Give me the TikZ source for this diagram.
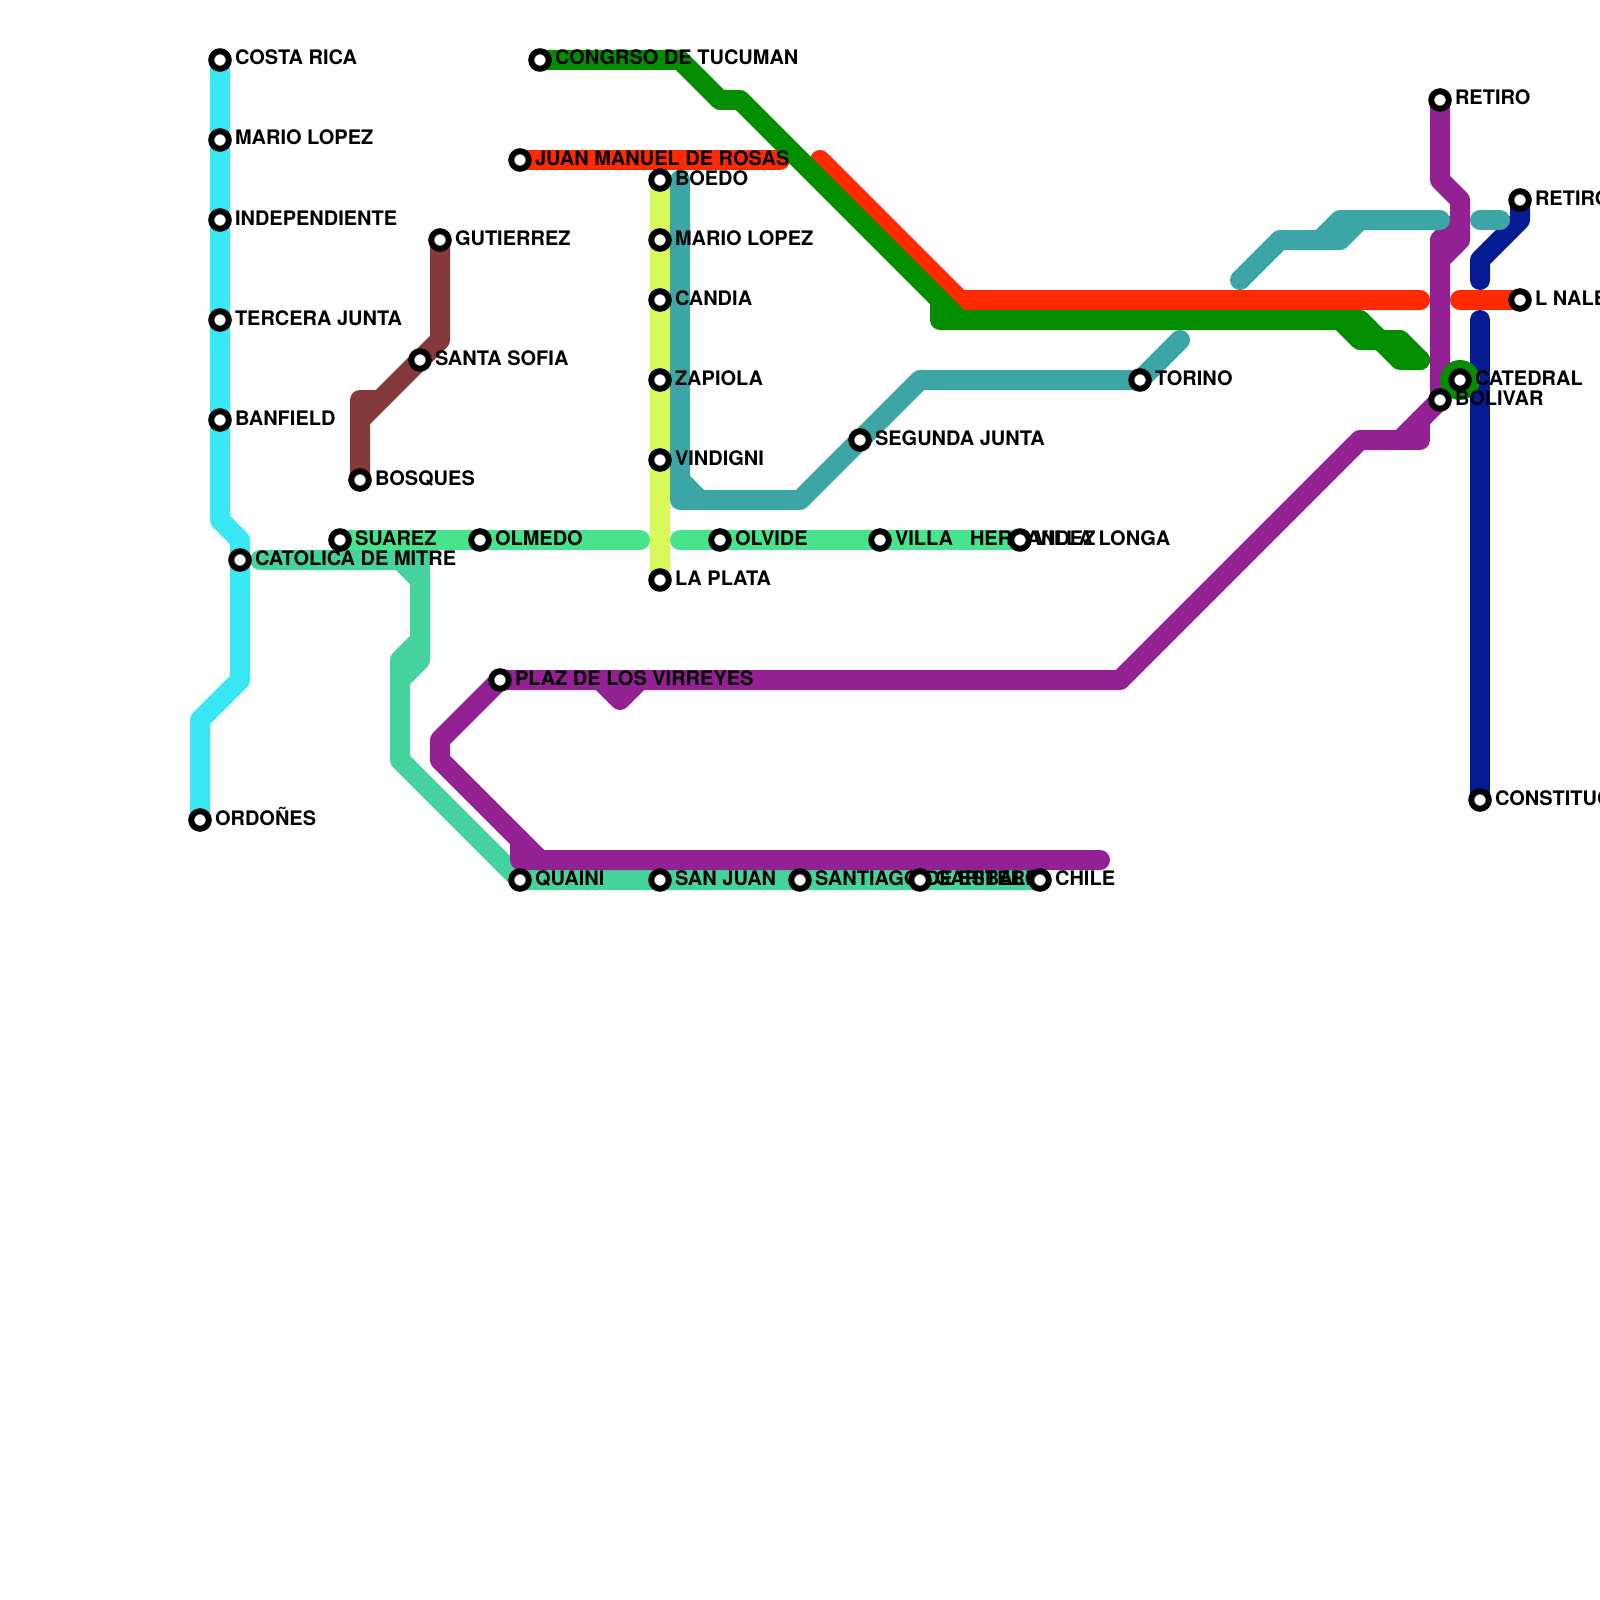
\documentclass[tikz,border=0pt]{standalone}
\usepackage{fontspec}
\setmainfont{TeX Gyre Heros}
\definecolor{cCyan}{HTML}{3AE8F5}
\definecolor{cBrown}{HTML}{843A3A}
\definecolor{cGreen}{HTML}{038E00}
\definecolor{cRed}{HTML}{FF2A00}
\definecolor{cPurple}{HTML}{932193}
\definecolor{cNavy}{HTML}{041B94}
\definecolor{cTeal}{HTML}{3CA6A6}
\definecolor{cLight}{HTML}{48E48C}
\definecolor{cMint}{HTML}{45D39D}
\definecolor{cYellow}{HTML}{D8F95A}
\tikzset{
  metro/.style={line width=20pt,line cap=round,line join=round},
  stn/.style={circle,draw=black,fill=white,line width=6pt,minimum size=17.5pt,inner sep=0pt,outer sep=0pt},
  lbl/.style={anchor=base west,inner sep=0pt,outer sep=0pt,font=\fontsize{20}{22}\selectfont\bfseries,text=black},
}
\newcommand{\stnlabel}[4]{%
  \node[stn] (#1) at (#2,#3) {};
  \node[lbl] (#1t) at (#2+15,#3+5) {#4};
}
\begin{document}
\begin{tikzpicture}[x=1pt,y=-1pt]
\useasboundingbox (0,0) rectangle (1600,1600);
\fill[white] (0,0) rectangle (1600,1600);
% lines
\draw[metro,cYellow] (660,180) -- (660,580);
\draw[metro,cLight] (340,540) -- (640,540);
\draw[metro,cLight] (680,540) -- (1020,540);
\draw[metro,cMint] (260,560) -- (420,560) -- (420,660) -- (400,680) -- (400,760) -- (520,880) -- (1040,880);
\draw[metro,cMint] (400,560) -- (420,580);
\draw[metro,cMint] (420,640) -- (400,660) -- (400,680);
\fill[cMint] (410,550) rectangle (430,570);
\draw[metro,cCyan] (220,60) -- (220,520) -- (240,540) -- (240,680) -- (200,720) -- (200,820);
\draw[metro,cBrown] (440,240) -- (440,340) -- (380,400) -- (360,400) -- (360,480);
\draw[metro,cBrown] (360,420) -- (380,400);
\draw[metro,cNavy] (1520,200) -- (1520,220) -- (1480,260) -- (1480,280);
\draw[metro,cNavy] (1480,320) -- (1480,800);
\draw[metro,cRed] (520,160) -- (780,160);
\draw[metro,cRed] (820,160) -- (960,300) -- (1420,300);
\draw[metro,cRed] (1460,300) -- (1520,300);
\draw[metro,cGreen] (540,60) -- (680,60) -- (720,100) -- (740,100) -- (960,320);
\draw[metro,cGreen] (940,300) -- (940,320) -- (1340,320) -- (1360,340) -- (1380,340) -- (1400,360) -- (1420,360);
\draw[metro,cGreen] (1340,320) -- (1360,320) -- (1380,340) -- (1400,340) -- (1420,360);
\draw[metro,cPurple] (1440,100) -- (1440,180) -- (1460,200) -- (1460,240) -- (1440,260);
\draw[metro,cPurple] (1440,240) -- (1440,400) -- (1400,440) -- (1360,440) -- (1120,680) -- (500,680) -- (440,740) -- (440,760) -- (520,840) -- (520,860) -- (1100,860);
\draw[metro,cPurple] (1440,240) -- (1460,220);
\draw[metro,cPurple] (1420,420) -- (1420,440) -- (1400,440);
\draw[metro,cPurple] (600,680) -- (620,700) -- (640,680);
\draw[metro,cPurple] (520,840) -- (540,860);
\draw[metro,cTeal] (680,180) -- (680,500) -- (800,500) -- (920,380) -- (1140,380) -- (1180,340);
\draw[metro,cTeal] (680,480) -- (700,500);
\draw[metro,cTeal] (1240,280) -- (1280,240) -- (1340,240) -- (1360,220) -- (1440,220);
\draw[metro,cTeal] (1320,240) -- (1340,220) -- (1360,220);
\draw[metro,cTeal] (1480,220) -- (1500,220);
\fill[cGreen] (1460,380) circle (20);
% labels and stations
\stnlabel{a1}{220}{60}{COSTA RICA}
\stnlabel{a2}{220}{140}{MARIO LOPEZ}
\stnlabel{a3}{220}{220}{INDEPENDIENTE}
\stnlabel{a4}{220}{320}{TERCERA JUNTA}
\stnlabel{a5}{220}{420}{BANFIELD}
\stnlabel{a6}{240}{560}{CATOLICA DE MITRE}
\stnlabel{a7}{200}{820}{ORDOÑES}
\stnlabel{b1}{440}{240}{GUTIERREZ}
\stnlabel{b2}{420}{360}{SANTA SOFIA}
\stnlabel{b3}{360}{480}{BOSQUES}
\stnlabel{c1}{340}{540}{SUAREZ}
\stnlabel{c2}{480}{540}{OLMEDO}
\stnlabel{c3}{720}{540}{OLVIDE}
\stnlabel{c4}{880}{540}{VILLA}
\node[lbl] (c5h) at (970,545) {HERNANDEZ};
\stnlabel{c6}{1020}{540}{VILLA LONGA}
\stnlabel{d1}{540}{60}{CONGRSO DE TUCUMAN}
\stnlabel{d2}{520}{160}{JUAN MANUEL DE ROSAS}
\stnlabel{e1}{660}{180}{BOEDO}
\stnlabel{e2}{660}{240}{MARIO LOPEZ}
\stnlabel{e3}{660}{300}{CANDIA}
\stnlabel{e4}{660}{380}{ZAPIOLA}
\stnlabel{e5}{660}{460}{VINDIGNI}
\stnlabel{e6}{660}{580}{LA PLATA}
\stnlabel{f1}{860}{440}{SEGUNDA JUNTA}
\stnlabel{f2}{1140}{380}{TORINO}
\stnlabel{g1}{500}{680}{PLAZ DE LOS VIRREYES}
\stnlabel{h1}{520}{880}{QUAINI}
\stnlabel{h2}{660}{880}{SAN JUAN}
\stnlabel{h3}{800}{880}{SANTIAGO DE ESTERO}
\stnlabel{h4}{920}{880}{GARIBALDI}
\stnlabel{h5}{1040}{880}{CHILE}
\stnlabel{i1}{1440}{100}{RETIRO}
\stnlabel{i2}{1520}{200}{RETIRO}
\stnlabel{i3}{1520}{300}{L NALEM}
\stnlabel{i4}{1460}{380}{CATEDRAL}
\stnlabel{i5}{1440}{400}{BOLIVAR}
\stnlabel{i6}{1480}{800}{CONSTITUCION}
\end{tikzpicture}
\end{document}
